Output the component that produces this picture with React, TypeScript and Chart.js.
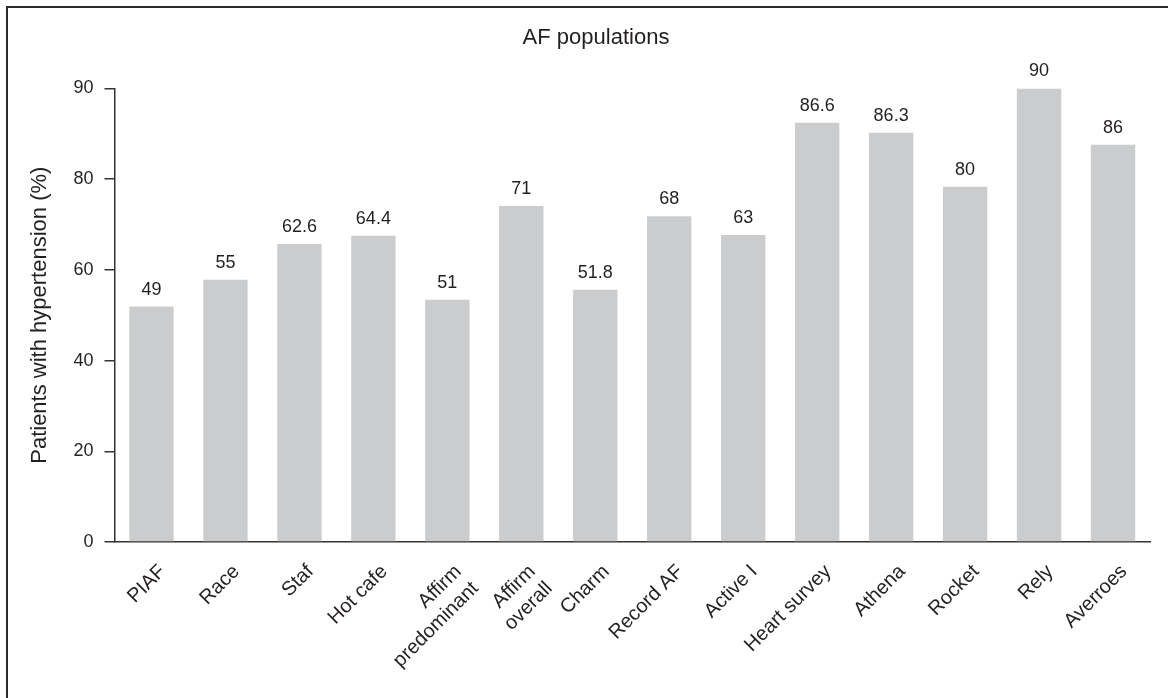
import { useEffect, useRef } from 'react';
import { Chart, registerables } from 'chart.js';

Chart.register(...registerables);

// study names along the x axis
const STUDIES: (string | string[])[] = [
  'PIAF', 'Race', 'Staf', 'Hot cafe', ['Affirm', 'predominant'], ['Affirm', 'overall'],
  'Charm', 'Record AF', 'Active I', 'Heart survey', 'Athena', 'Rocket', 'Rely', 'Averroes',
];

// bar heights as drawn in the figure (on the axis scale)
const BAR_HEIGHTS = [51.9, 57.8, 65.7, 67.5, 53.4, 74.1, 55.6, 71.8, 67.7, 92.4, 90.2, 78.3, 100, 87.6];

// numbers printed above the bars
const VALUE_LABELS = ['49', '55', '62.6', '64.4', '51', '71', '51.8', '68', '63', '86.6', '86.3', '80', '90', '86'];

// y tick labels as printed (top one reads 90)
const Y_TICK_LABELS = ['0', '20', '40', '60', '80', '90'];

const FONT = '"Liberation Sans", Arial, sans-serif';
const TEXT = '#231f20';
const AXIS = '#333333';

const valueLabelPlugin = {
  id: 'valueLabels',
  afterDatasetsDraw(chart: Chart) {
    const { ctx } = chart;
    const meta = chart.getDatasetMeta(0);
    ctx.save();
    ctx.font = `18px ${FONT}`;
    ctx.fillStyle = TEXT;
    ctx.textAlign = 'center';
    ctx.textBaseline = 'middle';
    meta.data.forEach((bar: any, i: number) => {
      ctx.fillText(VALUE_LABELS[i], bar.x, bar.y - 17);
    });
    ctx.restore();
  },
};

export default function App() {
  const canvasRef = useRef<HTMLCanvasElement>(null);

  useEffect(() => {
    if (!canvasRef.current) return;
    const chart = new Chart(canvasRef.current, {
      type: 'bar',
      data: {
        labels: STUDIES,
        datasets: [{
          data: BAR_HEIGHTS,
          backgroundColor: '#cbcccd',
          barPercentage: 0.6,
          categoryPercentage: 1,
        }],
      },
      options: {
        animation: false,
        responsive: true,
        maintainAspectRatio: false,
        layout: { padding: { left: 42, right: 18, top: 0, bottom: 0 } },
        plugins: {
          legend: { display: false },
          tooltip: { enabled: false },
          title: {
            display: true,
            text: 'AF populations',
            color: TEXT,
            font: { family: FONT, size: 22, weight: 'normal' },
            padding: { top: 25, bottom: 37 },
          },
        },
        scales: {
          x: {
            offset: true,
            grid: { display: false },
            border: { color: AXIS, width: 1.5 },
            ticks: {
              color: TEXT,
              font: { family: FONT, size: 20 },
              minRotation: 45,
              maxRotation: 45,
              autoSkip: false,
              padding: 10,
              labelOffset: 11,
            },
            afterFit: (scale: any) => { scale.height = 156; },
          },
          y: {
            min: 0,
            max: 100,
            ticks: {
              stepSize: 20,
              color: TEXT,
              font: { family: FONT, size: 18 },
              padding: 11,
              callback: (_v: any, i: number) => Y_TICK_LABELS[i],
            },
            grid: { drawOnChartArea: false, drawTicks: true, tickLength: 10, color: AXIS, lineWidth: 1.5 },
            border: { color: AXIS, width: 1.5 },
            title: {
              display: true,
              text: 'Patients with hypertension (%)',
              color: TEXT,
              font: { family: FONT, size: 22 },
              padding: { top: -15, bottom: 0 },
            },
            afterFit: (scale: any) => { scale.width = 72.5; },
          },
        },
      },
      plugins: [valueLabelPlugin],
    });
    return () => chart.destroy();
  }, []);

  return (
    <div style={{ position: 'absolute', left: 0, top: 0, width: 1168, height: 698, background: '#fff', overflow: 'hidden' }}>
      <div style={{ position: 'absolute', left: 6, top: 6, right: 0, height: 2, background: '#2b2b2b' }} />
      <div style={{ position: 'absolute', left: 6, top: 6, width: 2, bottom: 0, background: '#2b2b2b' }} />
      <div style={{ position: 'absolute', left: 0, top: 0, width: 1168, height: 698 }}>
        <canvas ref={canvasRef} />
      </div>
    </div>
  );
}
